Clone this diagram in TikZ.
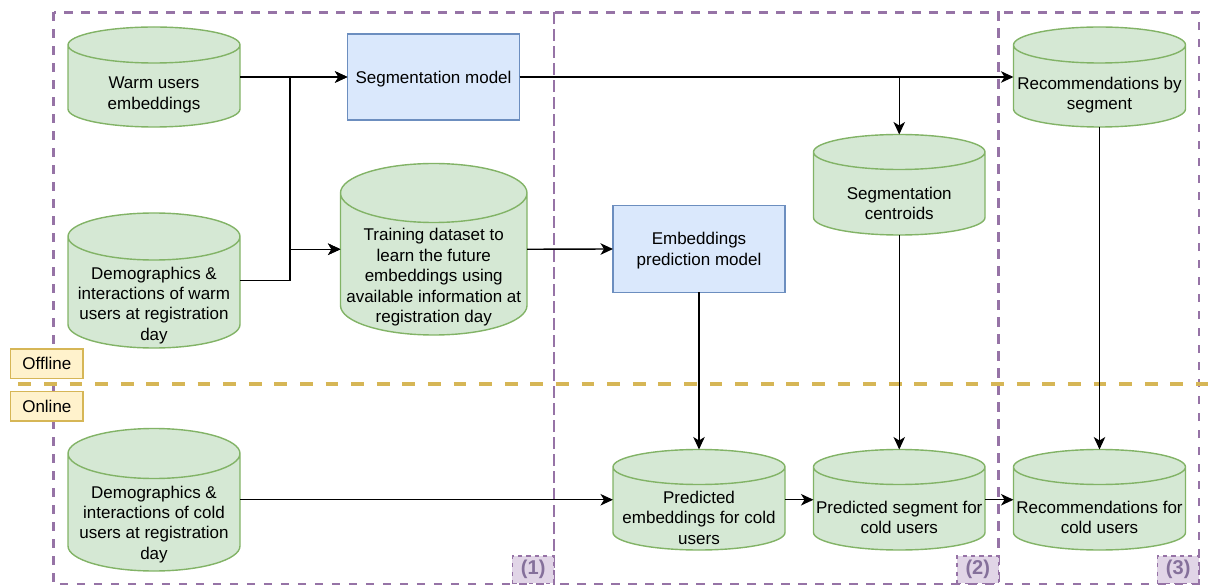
\documentclass[tikz,border=0pt]{standalone}
\usepackage{fontspec}
\setmainfont{Liberation Sans}
\usetikzlibrary{arrows.meta,calc}
\definecolor{cylfill}{HTML}{D5E8D4}
\definecolor{cylline}{HTML}{82B366}
\definecolor{boxfill}{HTML}{DAE8FC}
\definecolor{boxline}{HTML}{6C8EBF}
\definecolor{ylfill}{HTML}{FFF2CC}
\definecolor{ylline}{HTML}{D6B656}
\definecolor{pline}{HTML}{9673A6}
\definecolor{pfill}{HTML}{E1D5E7}
\definecolor{ptext}{HTML}{85709B}

\tikzset{
  cylanchor/.style={draw=none, inner sep=0pt, outer sep=0pt},
  cylshape/.style={fill=cylfill, draw=cylline, line width=1.4pt},
  cyltext/.style={align=center, inner sep=0pt, yshift=-1.8pt, font=\fontsize{17}{20.4}\selectfont},
  modelbox/.style={draw=boxline, fill=boxfill, line width=1.4pt, inner sep=0pt, outer sep=0pt},
  phasebox/.style={draw=ylline, fill=ylfill, line width=1.4pt, inner sep=0pt, outer sep=0pt,
    font=\fontsize{17}{20.4}\selectfont, minimum width=72.3pt, minimum height=29.3pt},
  stagebox/.style={draw=pline, line width=2.8pt, dash pattern=on 8.5pt off 8.5pt},
  phaseline/.style={draw=ylline, line width=4.2pt, dash pattern=on 12.8pt off 12.8pt},
  numlabel/.style={draw=pline, fill=pfill, line width=1.4pt, dash pattern=on 4.2pt off 4.2pt,
    inner sep=0pt, outer sep=0pt, text=ptext, font=\fontsize{20}{24}\selectfont\bfseries,
    minimum width=41.6pt, minimum height=27.3pt},
  conn/.style={draw=black, line width=1.4pt, -{Stealth[length=12.5pt,width=11.5pt,inset=3.5pt]}},
}

\newcommand\dbcyl[6]{%
  \node[cylanchor, minimum width={#4-#2}, minimum height={#5-#3}] (#1) at ({(#2+#4)/2},{(#3+#5)/2}) {};
  \path[cylshape] let \p1=(#1.north west), \p2=(#1.south east) in
    (\x1,\y1-#6pt) -- (\x1,\y2+#6pt)
    arc[start angle=180,end angle=360,x radius={(\x2-\x1)/2},y radius=#6pt]
    -- (\x2,\y1-#6pt)
    arc[start angle=0,end angle=180,x radius={(\x2-\x1)/2},y radius=#6pt]
    -- cycle
    (\x1,\y1-#6pt) arc[start angle=180,end angle=360,x radius={(\x2-\x1)/2},y radius=#6pt];
}

\begin{document}
\begin{tikzpicture}[x=1pt,y=-1pt]
\useasboundingbox (0,0) rectangle (1208,585);

% stage frames
\draw[stagebox] (53.6,12.3) rectangle (554,584);
\draw[stagebox] (554,12.3) rectangle (998.6,584);
\draw[stagebox] (998.6,12.3) rectangle (1199,584);

% offline / online separator
\draw[phaseline] (18.4,384.3) -- (1212,384.3);
\node[phasebox] (off) at (46.85,363.65) {Offline};
\node[phasebox] (on) at (46.85,406.35) {Online};

% cylinders
\dbcyl{wu}{68}{27}{240}{127}{18}
\node[cyltext] (wu-t) at (154,93.3) {Warm users\\embeddings};
\dbcyl{dw}{68}{213}{240}{348}{23.5}
\node[cyltext] (dw-t) at (154,303.5) {Demographics \&\\interactions of warm\\users at registration\\day};
\dbcyl{td}{340.5}{163.5}{527}{335}{29.5}
\node[cyltext] (td-t) at (433.75,275.6) {Training dataset to\\learn the future\\embeddings using\\available information at\\registration day};
\dbcyl{cd}{68}{428.5}{240}{571}{25}
\node[cyltext] (cd-t) at (154,522.6) {Demographics \&\\interactions of cold\\users at registration\\day};
\dbcyl{sc}{813.5}{134.5}{985}{235}{17.5}
\node[cyltext] (sc-t) at (899.25,201.7) {Segmentation\\centroids};
\dbcyl{rs}{1013.5}{27}{1185.5}{127}{18}
\node[cyltext] (rs-t) at (1099.5,93.3) {Recommendations by\\segment};
\dbcyl{pe}{613}{449.5}{785}{550}{17.5}
\node[cyltext] (pe-t) at (699,516) {Predicted\\embeddings for cold\\users};
\dbcyl{ps}{813.5}{449.5}{985}{550}{17.5}
\node[cyltext] (ps-t) at (899.25,515.7) {Predicted segment for\\cold users};
\dbcyl{rc}{1013.5}{449.5}{1185.5}{550}{17.5}
\node[cyltext] (rc-t) at (1099.5,515.7) {Recommendations for\\cold users};

% models
\node[modelbox, minimum width=172pt, minimum height=86pt] (seg) at (433.5,77) {};
\node[cyltext] (seg-t) at (seg.center) {Segmentation model};
\node[modelbox, minimum width=172pt, minimum height=86.6pt] (emb) at (699,249) {};
\node[cyltext] (emb-t) at (emb.center) {Embeddings\\prediction model};

% stage labels
\node[numlabel] (l1) at (533.2,569.7) {(1)};
\node[numlabel] (l2) at (977.8,569.7) {(2)};
\node[numlabel] (l3) at (1178.2,569.7) {(3)};

% connectors
\coordinate (jx) at (290,77);
\draw[conn] (wu.east) -- (seg.west);
\draw[conn] (dw.east) -| (jx) -- (seg.west);
\draw[conn] (wu.east) -| (td.west -| jx) -- (td.west);
\draw[conn] (dw.east) -| (td.west -| jx) -- (td.west);
\draw[conn] (td.east) -- (emb.west);
\draw[conn] (seg.east) -- (rs.west);
\draw[conn] (seg.east) -| (sc.north);
\draw[conn] (emb.south) -- (pe.north);
\draw[conn] (sc.south) -- (ps.north);
\draw[conn] (rs.south) -- (rc.north);
\draw[conn] (cd.east) -- (pe.west);
\draw[conn] (pe.east) -- (ps.west);
\draw[conn] (ps.east) -- (rc.west);
\end{tikzpicture}
\end{document}
